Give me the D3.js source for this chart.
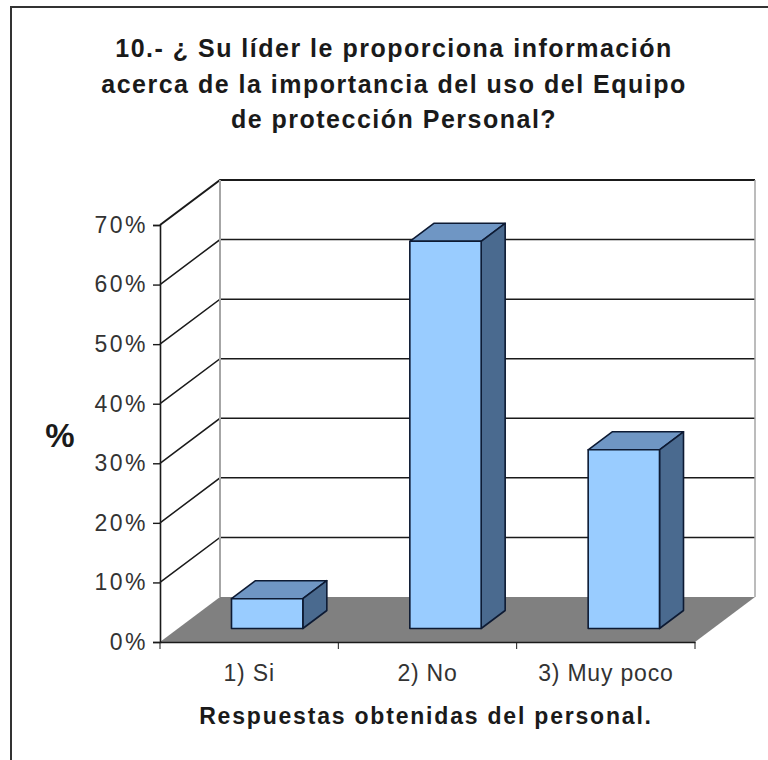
<!DOCTYPE html>
<html>
<head>
<meta charset="utf-8">
<script src="https://cdn.jsdelivr.net/npm/d3@7"></script>
<style>
html, body { margin: 0; padding: 0; background: #fff; }
text { font-family: "Liberation Sans", Arial, sans-serif; fill: #1a1a1a; }
</style>
</head>
<body>
<div id="chart"></div>
<script>
var categories = ["1) Si", "2) No", "3) Muy poco"];
var values = [5, 65, 30];
var yTicks = [0, 10, 20, 30, 40, 50, 60, 70];
var titleLines = [
    "10.- ¿ Su líder le proporciona información",
    "acerca de la importancia del uso del Equipo",
    "de protección Personal?"
];
var xTitle = "Respuestas obtenidas del personal.";
var yTitle = "%";

var width = 768, height = 760;
var depthX = 60, depthY = 45;   // oblique offset of the back wall

var svg = d3.select("#chart").append("svg")
    .attr("width", width)
    .attr("height", height)
    .style("display", "block");

var x = d3.scaleBand().domain(categories).range([160, 695]);
var y = d3.scaleLinear().domain([0, 70]).range([642, 225]);

var barWidth = x.bandwidth() * 0.4;
// bars sit 0.3 of the way into the floor, their own depth is 0.4 of it
var inX = depthX * 0.3, inY = depthY * 0.3;
var barDx = depthX * 0.4, barDy = depthY * 0.4;

// the frame only shows on the left and top, it runs off the picture otherwise
svg.append("path")
    .attr("d", d3.line()([[11, height], [11, 7], [width, 7]]))
    .attr("fill", "none")
    .attr("stroke", "#333")
    .attr("stroke-width", 2);

svg.selectAll(".title")
    .data(titleLines)
    .enter().append("text")
    .attr("class", "title")
    .attr("x", 394)
    .attr("y", function (d, i) { return 57 + i * 35.5; })
    .attr("text-anchor", "middle")
    .style("font-size", "25px")
    .style("font-weight", "bold")
    .style("letter-spacing", "1.5px")
    .text(function (d) { return d; });

// floor
var x0 = x.range()[0], x1 = x.range()[1], y0 = y(0), yTop = y(70);
svg.append("path")
    .attr("d", d3.line()([[x0, y0], [x0 + depthX, y0 - depthY], [x1 + depthX, y0 - depthY], [x1, y0]]) + "Z")
    .attr("fill", "#808080");

// grid lines on side and back wall
svg.selectAll(".grid")
    .data(yTicks.slice(1))
    .enter().append("path")
    .attr("class", "grid")
    .attr("fill", "none")
    .attr("stroke", "#1a1a1a")
    .attr("stroke-width", function (d) { return d === 70 ? 2 : 1.5; })
    .attr("d", function (d) {
        return d3.line()([[x0, y(d)], [x0 + depthX, y(d) - depthY], [x1 + depthX, y(d) - depthY]]);
    });

// wall edges
svg.append("line")
    .attr("x1", x0 + depthX).attr("x2", x0 + depthX)
    .attr("y1", yTop - depthY).attr("y2", y0 - depthY)
    .attr("stroke", "#a6a6a6").attr("stroke-width", 2);
svg.append("line")
    .attr("x1", x1 + depthX).attr("x2", x1 + depthX)
    .attr("y1", yTop - depthY).attr("y2", y0 - depthY)
    .attr("stroke", "#a6a6a6").attr("stroke-width", 1.5);

// bars
var bar = svg.selectAll(".bar")
    .data(categories)
    .enter().append("g")
    .attr("class", "bar")
    .attr("stroke", "#0d1a33")
    .attr("stroke-width", 1.6)
    .attr("stroke-linejoin", "round");

function barLeft(d) { return x(d) + x.bandwidth() * 0.3 + inX; }
function barBottom() { return y(0) - inY; }
function barTop(i) { return y(values[i]) - inY; }

bar.append("path")
    .attr("fill", "#6f96c4")
    .attr("d", function (d, i) {
        var l = barLeft(d), t = barTop(i);
        return d3.line()([[l, t], [l + barDx, t - barDy], [l + barWidth + barDx, t - barDy], [l + barWidth, t]]) + "Z";
    });
bar.append("path")
    .attr("fill", "#4a6a8f")
    .attr("d", function (d, i) {
        var r = barLeft(d) + barWidth, t = barTop(i), b = barBottom();
        return d3.line()([[r, t], [r + barDx, t - barDy], [r + barDx, b - barDy], [r, b]]) + "Z";
    });
bar.append("rect")
    .attr("fill", "#99ccff")
    .attr("x", barLeft)
    .attr("y", function (d, i) { return barTop(i); })
    .attr("width", barWidth)
    .attr("height", function (d, i) { return barBottom() - barTop(i); });

// axes
var yAxis = d3.axisLeft(y)
    .tickValues(yTicks)
    .tickSize(7)
    .tickPadding(5)
    .tickFormat(function (d) { return d + "%"; });
var gy = svg.append("g").attr("transform", "translate(" + x0 + ",0)").call(yAxis);
gy.selectAll("text")
    .style("font-size", "23px")
    .style("letter-spacing", "2.5px")
    .style("fill", "#333")
    .style("font-family", '"Liberation Sans", Arial, sans-serif');

var xAxis = d3.axisBottom(x).tickSize(0).tickPadding(22.7);
var gx = svg.append("g").attr("transform", "translate(0," + y0 + ")").call(xAxis);
gx.selectAll("text")
    .style("font-size", "23px")
    .style("letter-spacing", "0.8px")
    .style("fill", "#333")
    .style("font-family", '"Liberation Sans", Arial, sans-serif');
gx.selectAll(".tickmark")
    .data(x.range().concat(categories.slice(1).map(function (c) { return x(c); })))
    .enter().append("line")
    .attr("class", "tickmark")
    .attr("x1", function (d) { return d; }).attr("x2", function (d) { return d; })
    .attr("y1", 0).attr("y2", 7)
    .attr("stroke", "#1a1a1a");

svg.selectAll(".domain").attr("stroke", "#1a1a1a").attr("stroke-width", 1.6);
svg.selectAll(".tick line").attr("stroke", "#1a1a1a").attr("stroke-width", 1.4);

svg.append("text")
    .attr("x", 426).attr("y", 724)
    .attr("text-anchor", "middle")
    .style("font-size", "23px")
    .style("font-weight", "bold")
    .style("letter-spacing", "1.8px")
    .text(xTitle);

svg.append("text")
    .attr("x", 60).attr("y", 447)
    .attr("text-anchor", "middle")
    .style("font-size", "33px")
    .style("font-weight", "bold")
    .text(yTitle);
</script>
</body>
</html>
